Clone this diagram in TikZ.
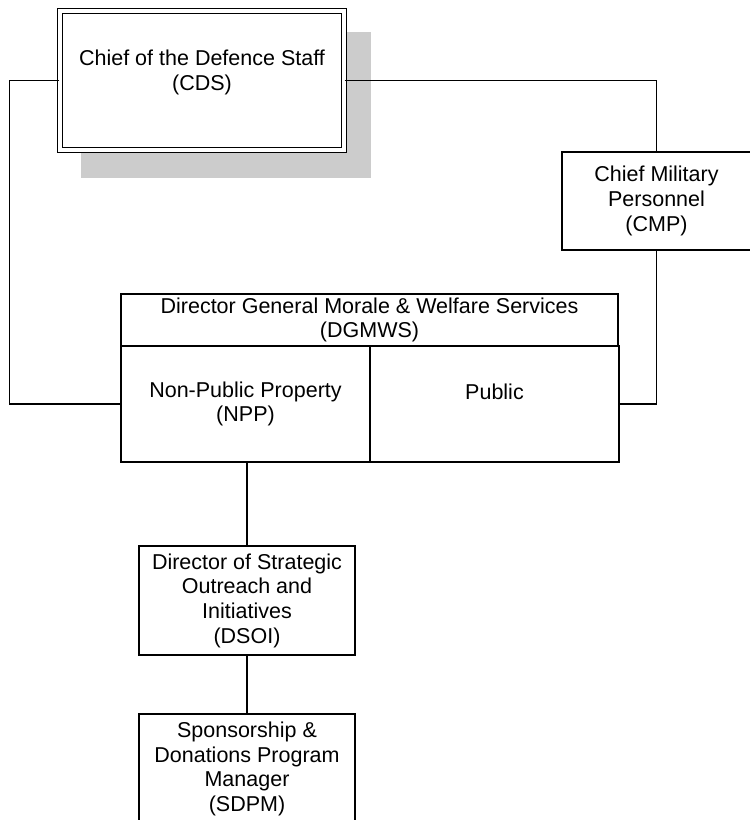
\documentclass[tikz,border=0pt]{standalone}
\usepackage{fontspec}
\setmainfont{Liberation Sans}
\usepackage{tikz}
\usetikzlibrary{positioning}
\definecolor{ShadowGray}{RGB}{204,204,204}

\begin{document}
\begin{tikzpicture}[
    x=1pt, y=-1pt,
    every node/.style={font=\fontsize{21.5}{24.7}\selectfont, align=center, inner sep=0pt},
    orgbox/.style={draw, line width=1.2pt},
    link/.style={draw, line width=1.2pt},
]
\clip (0,0) rectangle (750,820);
\fill[ShadowGray] (81,32) rectangle (371,178);
\node[orgbox, double, double distance=3.6pt, fill=white, minimum width=284pt, minimum height=139pt]
    (cds) at (202,80.5) {Chief of the Defence Staff\\(CDS)\\[-4pt]\mbox{}};
\node[orgbox, minimum width=189pt, minimum height=98pt] (cmp) at (656.5,201) {Chief Military\\Personnel\\(CMP)};
\node[orgbox, minimum width=497pt, minimum height=52pt] (dgmws) at (369.5,320) {Director General Morale \& Welfare Services\\(DGMWS)};
\node[orgbox, minimum width=249pt, minimum height=116pt] (npp) at (245.5,404) {Non-Public Property\\(NPP)};
\node[orgbox, minimum width=249pt, minimum height=116pt] (public) at (494.5,404) {Public\\\mbox{}};
\node[orgbox, minimum width=216pt, minimum height=109pt] (dsoi) at (247,600.5) {Director of Strategic\\Outreach and\\Initiatives\\(DSOI)};
\node[orgbox, minimum width=216pt, minimum height=110pt] (sdpm) at (247,769) {Sponsorship \&\\Donations Program\\Manager\\(SDPM)};
\draw[link] (cds.west) -- ++(-50,0) |- (npp.west);
\draw[link] (cds.east) -| (cmp.north);
\draw[link] (cmp.south) |- (public.east);
\draw[link] (npp.south -| dsoi.north) -- (dsoi.north);
\draw[link] (dsoi.south) -- (sdpm.north);
\end{tikzpicture}
\end{document}
